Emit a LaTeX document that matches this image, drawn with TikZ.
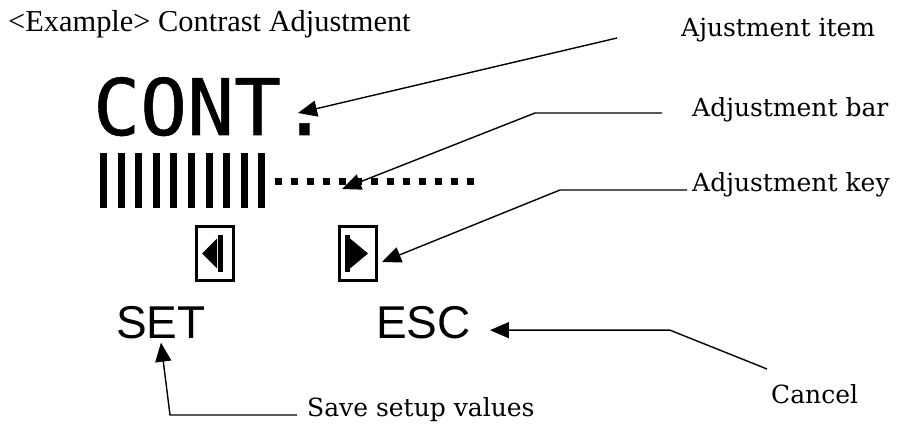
\documentclass[tikz,border=0pt]{standalone}
\usepackage{fontspec}
\setmainfont{Liberation Serif}
\newfontfamily\lblfont{DejaVu Serif}
\newfontfamily\lcdfont[FakeBold=0.7]{DejaVu Sans Mono}
\newfontfamily\keyfont{Liberation Sans}
\usepackage{tikz}
\usetikzlibrary{arrows.meta,positioning,calc}

\begin{document}
\begin{tikzpicture}[x=1pt,y=-1pt,
  lbl/.style={font=\lblfont\fontsize{25}{30}\selectfont,inner sep=0pt,anchor=base west},
  keytxt/.style={font=\keyfont\fontsize{46}{52}\selectfont,inner sep=0pt,anchor=base west},
  keybox/.style={draw,line width=3pt,minimum width=37pt,minimum height=54pt,inner sep=0pt},
  ar/.style={-{Triangle[length=19pt,width=16pt]},line width=1.4pt}]
\useasboundingbox (0,0) rectangle (898,425);
\node[anchor=base west,inner sep=0pt,font=\fontsize{30.4}{34}\selectfont] (title) at (8,32) {<Example> Contrast Adjustment};
% display
\node[anchor=base west,inner sep=0pt,font=\lcdfont\fontsize{78}{80}\selectfont] (cont) at (93,135) {CONT.};
\foreach \i in {0,...,9} \fill (100+17.6*\i,153) rectangle +(7,55);
\foreach \i in {0,...,12} \fill (275+16*\i,178) rectangle +(7,7);
\node[keybox] (keyl) at (215,253.5) {};
\node[keybox] (keyr) at (358,253.5) {};
\fill ([xshift=-13pt]keyl.center) -- ([xshift=2pt,yshift=15pt]keyl.center) -- ([xshift=2pt,yshift=-15pt]keyl.center) -- cycle;
\fill ([xshift=3pt,yshift=-18pt]keyl.center) rectangle ([xshift=8pt,yshift=18pt]keyl.center);
\fill ([xshift=10pt]keyr.center) -- ([xshift=-8pt,yshift=15pt]keyr.center) -- ([xshift=-8pt,yshift=-15pt]keyr.center) -- cycle;
\fill ([xshift=-13pt,yshift=-18pt]keyr.center) rectangle ([xshift=-8pt,yshift=18pt]keyr.center);
\node[keytxt] (set) at (116,338) {SET};
\node[keytxt] (esc) at (376,338) {ESC};
% labels
\node[lbl] (itemlbl) at (681,37) {Ajustment item};
\node[lbl] (barlbl) at (692,117) {Adjustment bar};
\node[lbl] (keylbl) at (692,192) {Adjustment key};
\node[lbl] (cancellbl) at (771,403) {Cancel};
\node[lbl] (savelbl) at (307,416) {Save setup values};
\coordinate (conttip) at (298,113);
\coordinate (bartip) at (342,189);
\coordinate (esctip) at ([xshift=19pt,yshift=-8pt]esc.east);
\coordinate (settip) at ([yshift=-4pt]set.south);
\draw[ar] ([xshift=-64pt,yshift=-1pt]itemlbl.base west) -- (conttip);
\draw[ar] ([xshift=-30pt,yshift=4pt]barlbl.base west) -- ++(-127,0) -- (bartip);
\draw[ar] ([xshift=-5pt,yshift=2pt]keylbl.base west) -- ++(-127,0) -- ([xshift=4pt,yshift=-8.5pt]keyr.east);
\draw[ar] ([xshift=-4pt,yshift=34pt]cancellbl.base west) -- ([xshift=180pt]esctip) -- (esctip);
\draw[ar] ([xshift=-10pt,yshift=1pt]savelbl.base west) -- ++(-127,0) -- (settip);
\end{tikzpicture}
\end{document}
